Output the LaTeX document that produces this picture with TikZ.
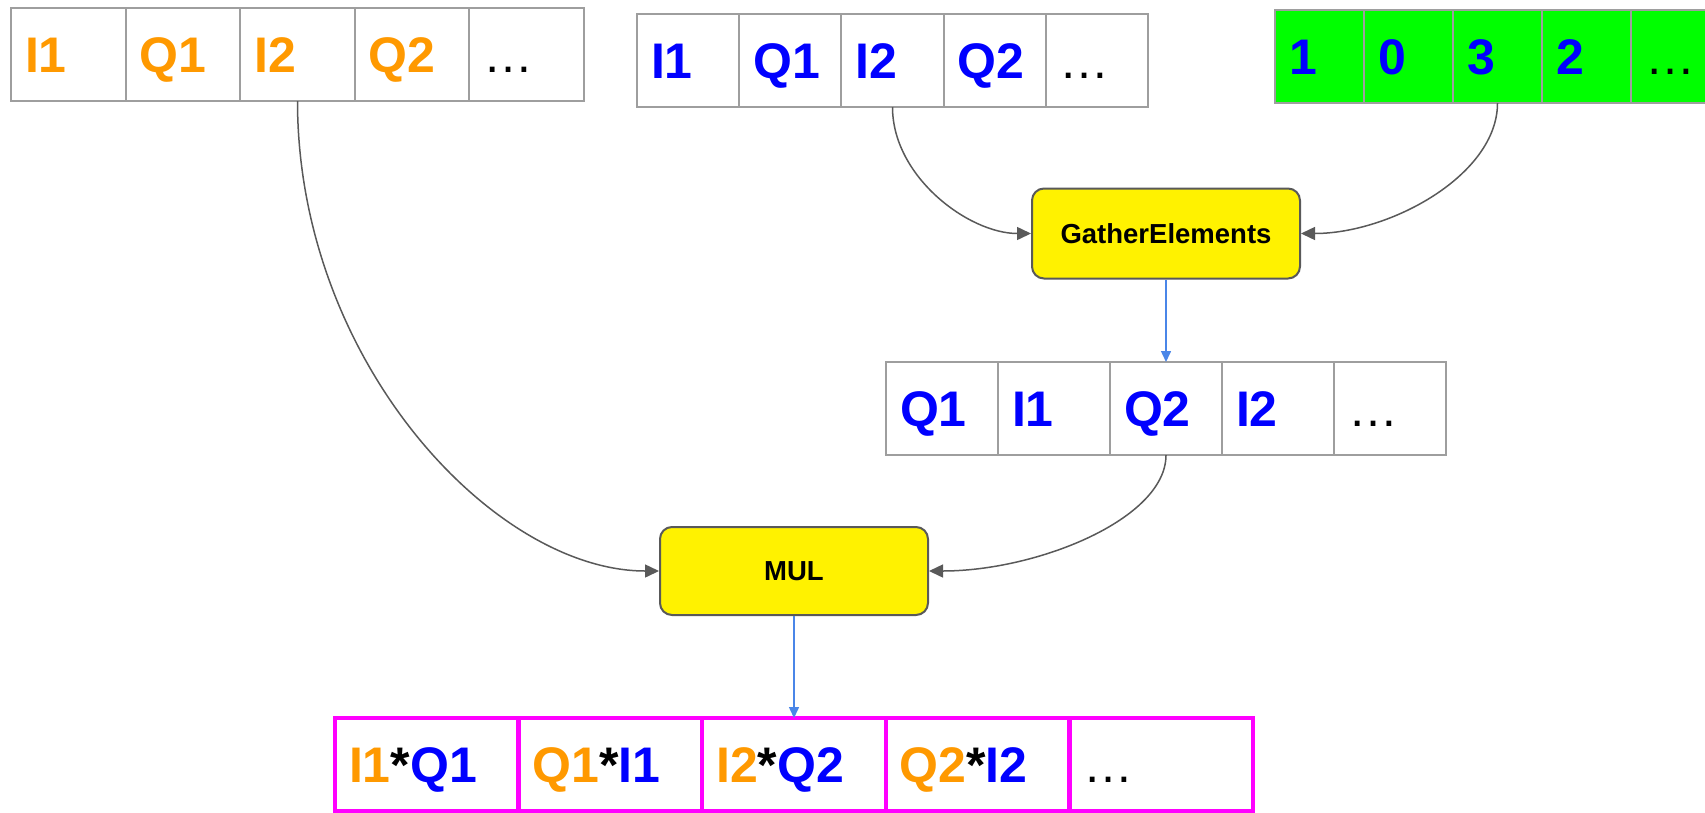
\documentclass[tikz,border=0pt]{standalone}
\usepackage{fontspec}
\setmainfont{Liberation Sans}
\usetikzlibrary{arrows.meta}

\definecolor{cellgray}{HTML}{9E9E9E}
\definecolor{linegray}{HTML}{595959}
\definecolor{iqorange}{HTML}{FF9900}
\definecolor{iqblue}{HTML}{0000FF}
\definecolor{flowblue}{HTML}{4A86E8}
\definecolor{idxgreen}{HTML}{00FF00}
\definecolor{outmagenta}{HTML}{FF00FF}

\newcommand{\cellfont}{\fontsize{50}{60}\selectfont\bfseries}
\newcommand{\opfont}{\fontsize{27.5}{33}\selectfont\bfseries}
\newcommand{\more}{{\color{black}\mdseries …}}

\tikzset{
  cell/.style={draw=cellgray, line width=2pt, anchor=west, outer sep=0pt,
    minimum height=93pt, inner xsep=14pt, inner ysep=0pt, text width=#1,
    align=left, text height=36pt, text depth=0pt, font=\cellfont},
  op/.style={draw=linegray, line width=2pt, fill=yellow, rounded corners=12pt,
    minimum width=268pt, minimum height=90pt, font=\opfont},
  link/.style={->, >={Triangle[length=14pt,width=13pt]}, draw=linegray, line width=1.5pt},
  flow/.style={->, >={Triangle[length=11pt,width=10pt]}, draw=flowblue, line width=1.5pt}
}

\begin{document}
\begin{tikzpicture}[x=1pt,y=-1pt]
  \useasboundingbox (0,0) rectangle (1705,812);
  % input I/Q
  \foreach \t [count=\i] in {I1,Q1,I2,Q2,\more}
    \node [cell=86.6pt, text=iqorange] (a\i) at ({11+114.6*(\i-1)},54.5) {\t};
  % input to be gathered
  \foreach \t [count=\i] in {I1,Q1,I2,Q2,\more}
    \node [cell=74.2pt, text=iqblue] (b\i) at ({637+102.2*(\i-1)},60.5) {\t};
  % indices
  \foreach \t [count=\i] in {1,0,3,2,\more}
    \node [cell=61pt, fill=idxgreen, text=iqblue] (c\i) at ({1275+89*(\i-1)},56.5) {\t};
  % gathered
  \foreach \t [count=\i] in {Q1,I1,Q2,I2,\more}
    \node [cell=84pt, text=iqblue] (d\i) at ({886+112*(\i-1)},408.5) {\t};
  % result
  \foreach \t [count=\i] in {{\textcolor{iqorange}{I1}*\textcolor{iqblue}{Q1}},
      {\textcolor{iqorange}{Q1}*\textcolor{iqblue}{I1}},
      {\textcolor{iqorange}{I2}*\textcolor{iqblue}{Q2}},
      {\textcolor{iqorange}{Q2}*\textcolor{iqblue}{I2}},\more}
    \node [cell=155.6pt, draw=outmagenta, line width=4.5pt] (e\i) at ({335+183.6*(\i-1)},764.5) {\t};

  \node [op] (ge) at (1166,233.5) {GatherElements};
  \node [op, minimum height=88pt] (mul) at (794,571) {MUL};

  \draw [link] (b3.south) .. controls +(0,70) and +(-62,0) .. (ge.west);
  \draw [link] (c3.south) .. controls +(0,72) and +(89,0) .. (ge.east);
  \draw [flow] (ge.south) -- (d3.north);
  \draw [link] (a3.south) .. controls +(0,260) and +(-165,0) .. (mul.west);
  \draw [link] (d3.south) .. controls +(0,64) and +(108,0) .. (mul.east);
  \draw [flow] (mul.south) -- (e3.north);
\end{tikzpicture}
\end{document}
